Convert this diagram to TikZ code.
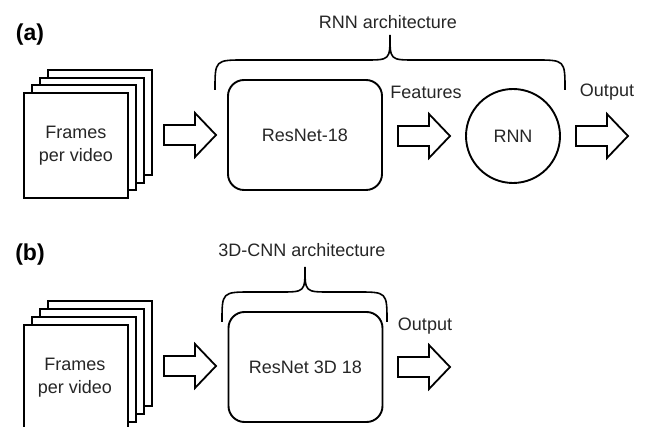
\documentclass[tikz,border=0pt]{standalone}
\usepackage{fontspec}
\setmainfont{Liberation Sans}
\begin{document}
\begin{tikzpicture}[x=1pt,y=-1pt,
  lbl/.style={font=\fontsize{18}{22}\selectfont, text=black!85, inner sep=0pt, align=center},
  tag/.style={font=\fontsize{23}{27}\selectfont\bfseries, inner sep=0pt},
  frame/.style={draw, line width=1.9pt, fill=white, minimum width=104pt, minimum height=105pt, inner sep=0pt, anchor=north west},
  netbox/.style={draw, line width=1.9pt, rounded corners=16pt, minimum width=154pt, minimum height=110pt, inner sep=0pt},
  rnncirc/.style={draw, circle, line width=1.9pt, minimum size=94pt, inner sep=0pt},
  brace/.style={line width=1.6pt},
  barrow/.style={draw, line width=1.8pt, line join=miter},
]
\useasboundingbox (0,0) rectangle (646,427);
\clip (0,0) rectangle (646,427);

% ---------- panel (a) ----------
\node[tag] (taga) at (30,35) {(a)};
\node[frame] (fa4) at (47,69) {};
\node[frame] (fa3) at (39,77) {};
\node[frame] (fa2) at (31,84) {};
\node[frame] (fa1) at (23,92) {};
\node[lbl] (fatext) at (fa1.center) {Frames\\[1pt]per video};

\coordinate (tipa1) at (216,135);
\draw[barrow] (tipa1) -- ++(-21,-22) -- ++(0,12) -- ++(-31,0) -- ++(0,20) -- ++(31,0) -- ++(0,12) -- cycle;

\node[netbox] (resa) at (305,135) {};
\node[lbl] (resatext) at (resa.center) {ResNet-18};

\node[lbl] (feat) at (426,92) {Features};
\coordinate (tipa2) at (450,136);
\draw[barrow] (tipa2) -- ++(-21,-22) -- ++(0,12) -- ++(-31,0) -- ++(0,20) -- ++(31,0) -- ++(0,12) -- cycle;

\node[rnncirc] (rnn) at (513,136) {};
\node[lbl] (rnntext) at (rnn.center) {RNN};

\node[lbl] (outa) at (607,92) {Output};
\coordinate (tipa3) at (628,136);
\draw[barrow] (tipa3) -- ++(-21,-22) -- ++(0,12) -- ++(-31,0) -- ++(0,20) -- ++(31,0) -- ++(0,12) -- cycle;

\coordinate (bral) at (215,90);
\coordinate (brap) at (390,35);
\coordinate (brar) at (565,90);
\draw[brace] (bral) .. controls (215,60) .. (245,60) -- (365,60) .. controls (390,60) .. (brap)
  .. controls (390,60) .. (415,60) -- (535,60) .. controls (565,60) .. (brar);
\node[lbl] (archa) at (388,22) {RNN architecture};

% ---------- panel (b) ----------
\node[tag] (tagb) at (30,255) {(b)};
\node[frame] (fb4) at (47,300) {};
\node[frame] (fb3) at (39,308) {};
\node[frame] (fb2) at (31,316) {};
\node[frame] (fb1) at (23,324) {};
\node[lbl] (fbtext) at (75,378) {Frames\\[1pt]per video};

\coordinate (tipb1) at (216,366);
\draw[barrow] (tipb1) -- ++(-21,-22) -- ++(0,12) -- ++(-31,0) -- ++(0,20) -- ++(31,0) -- ++(0,12) -- cycle;

\node[netbox] (resb) at (305.5,367) {};
\node[lbl] (resbtext) at (resb.center) {ResNet 3D 18};

\node[lbl] (outb) at (425,326) {Output};
\coordinate (tipb2) at (450,367);
\draw[barrow] (tipb2) -- ++(-21,-22) -- ++(0,12) -- ++(-31,0) -- ++(0,20) -- ++(31,0) -- ++(0,12) -- cycle;

\coordinate (brbl) at (222,322);
\coordinate (brbp) at (305,267);
\coordinate (brbr) at (387,322);
\draw[brace] (brbl) .. controls (222,292) .. (252,292) -- (280,292) .. controls (305,292) .. (brbp)
  .. controls (305,292) .. (330,292) -- (357,292) .. controls (387,292) .. (brbr);
\node[lbl] (archb) at (302,250) {3D-CNN architecture};
\end{tikzpicture}
\end{document}
